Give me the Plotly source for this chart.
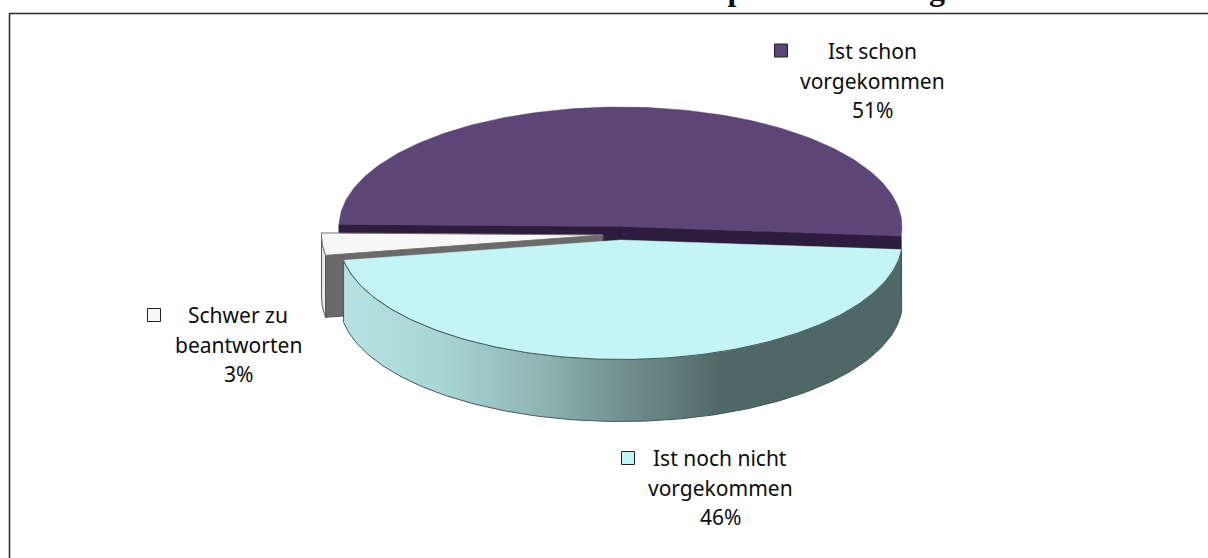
import numpy as np
import plotly.graph_objects as go

# Data
categories = ["Ist schon vorgekommen", "Ist noch nicht vorgekommen", "Schwer zu beantworten"]
shares = [51, 46, 3]
label_lines = [["Ist schon", "vorgekommen", "51%"],
               ["Ist noch nicht", "vorgekommen", "46%"],
               ["Schwer zu", "beantworten", "3%"]]
title_fragments = ["p", "g"]   # only descenders of the cropped title remain visible

# Styling / layout
W, H = 1208, 558
TOP = ["#5d4677", "#c4f4f5", "#f7f7f7"]
CUT = ["#2e1c3e", None, "#6a6a6a"]
EDGE = ["#3a2a4c", "#3f5a5a", "#555555"]
CENTERS = [(620.5, 226.5), (621, 240), (603, 235)]
RX, RY, DEPTH = 281.5, 119.5, 62
START = 181.0
LABEL_X = [872, 720, 238]
LABEL_Y = [51, 458, 315]
LINE_STEP = 29.5
MARK_X = [781, 628, 154]
MARK_Y = [50.5, 458, 315]
SIDE_GRAD = [[0, "#b6e2e3"], [0.17, "#a9d5d5"], [0.35, "#8fb6b5"], [0.5, "#72908f"],
             [0.68, "#4f6866"], [1, "#4f6865"]]

fig = go.Figure()


def arc(c, t0, t1, dy=0, n=160):
    t = np.radians(np.linspace(t0, t1, n))
    return c[0] + RX * np.cos(t), c[1] + RY * np.sin(t) + dy


def poly(x, y, fill, line, width=1, **kw):
    fig.add_trace(go.Scatter(x=list(x) + [x[0]], y=list(y) + [y[0]], mode="lines", fill="toself",
                             fillcolor=fill, line=dict(color=line, width=width),
                             hoverinfo="skip", showlegend=False, **kw))


spans = []
a = START
for s in shares:
    spans.append((a, a + s / sum(shares) * 360))
    a = spans[-1][1]

# purple: two cut faces then the top
c = CENTERS[0]
t0, t1 = spans[0]
for t in (t0, t1):
    ax, ay = arc(c, t, t, n=1)
    poly([c[0], ax[0], ax[0], c[0]], [c[1], ay[0], ay[0] + DEPTH, c[1] + DEPTH], CUT[0], "#241532")
ax, ay = arc(c, t0, t1)
poly(np.r_[c[0], ax], np.r_[c[1], ay], TOP[0], TOP[0], 0.5)

# white exploded slice: outer wall, cut face, top
c = CENTERS[2]
t0, t1 = spans[2]
ax, ay = arc(c, t0, t1, n=30)
poly(np.r_[ax, ax[::-1]], np.r_[ay, ay[::-1] + DEPTH], "#ececec", EDGE[2])
ex, ey = arc(c, t0, t0, n=1)
poly([c[0], ex[0], ex[0], c[0]], [c[1], ey[0], ey[0] + DEPTH, c[1] + DEPTH], CUT[2], EDGE[2])
poly(np.r_[c[0], ax], np.r_[c[1], ay], TOP[2], "#777777")

# cyan: wall with gradient, then top
c = CENTERS[1]
t0, t1 = spans[1]
ax, ay = arc(c, t0, t1)
fig.add_trace(go.Scatter(x=np.r_[ax, ax[::-1], ax[0]], y=np.r_[ay, ay[::-1] + DEPTH, ay[0]],
                         mode="lines", fill="toself",
                         fillgradient=dict(type="horizontal", colorscale=SIDE_GRAD),
                         line=dict(color=EDGE[1], width=1), hoverinfo="skip", showlegend=False))
poly(np.r_[c[0], ax], np.r_[c[1], ay], TOP[1], TOP[1], 0.5)
fig.add_trace(go.Scatter(x=ax, y=ay, mode="lines", line=dict(color=EDGE[1], width=1),
                         hoverinfo="skip", showlegend=False))

# legend-like squares
fig.add_trace(go.Scatter(x=MARK_X, y=MARK_Y, mode="markers",
                         marker=dict(symbol="square", size=13, color=TOP,
                                     line=dict(color="#222222", width=1)),
                         text=categories, hoverinfo="text", showlegend=False))

# cropped title fragments
fig.add_trace(go.Scatter(x=[736.5, 937], y=[8, 8], mode="text", text=title_fragments,
                         textposition="top center", hoverinfo="skip", showlegend=False,
                         textfont=dict(family="Liberation Serif", size=32, color="#111111",
                                       weight="bold")))

# labels
for lx, ly, lines in zip(LABEL_X, LABEL_Y, label_lines):
    for i, t in enumerate(lines):
        fig.add_annotation(x=lx, y=ly + i * LINE_STEP, text=t, showarrow=False, xanchor="center",
                           yanchor="middle", font=dict(family="Noto Sans", size=21, color="#0d0d0d"))

# frame
fig.add_shape(type="line", x0=9, x1=W, y0=13.5, y1=13.5, line=dict(color="#2a2a2a", width=1.5))
fig.add_shape(type="line", x0=9.5, x1=9.5, y0=13, y1=H, line=dict(color="#2a2a2a", width=1.5))

fig.update_layout(width=W, height=H, margin=dict(l=0, r=0, t=0, b=0),
                  paper_bgcolor="white", plot_bgcolor="white", showlegend=False,
                  xaxis=dict(range=[0, W], visible=False, fixedrange=True),
                  yaxis=dict(range=[H, 0], visible=False, fixedrange=True))
fig.write_html("out.html", config={"displayModeBar": False},
               post_script="document.body.style.margin='0';document.body.style.overflow='hidden';")
